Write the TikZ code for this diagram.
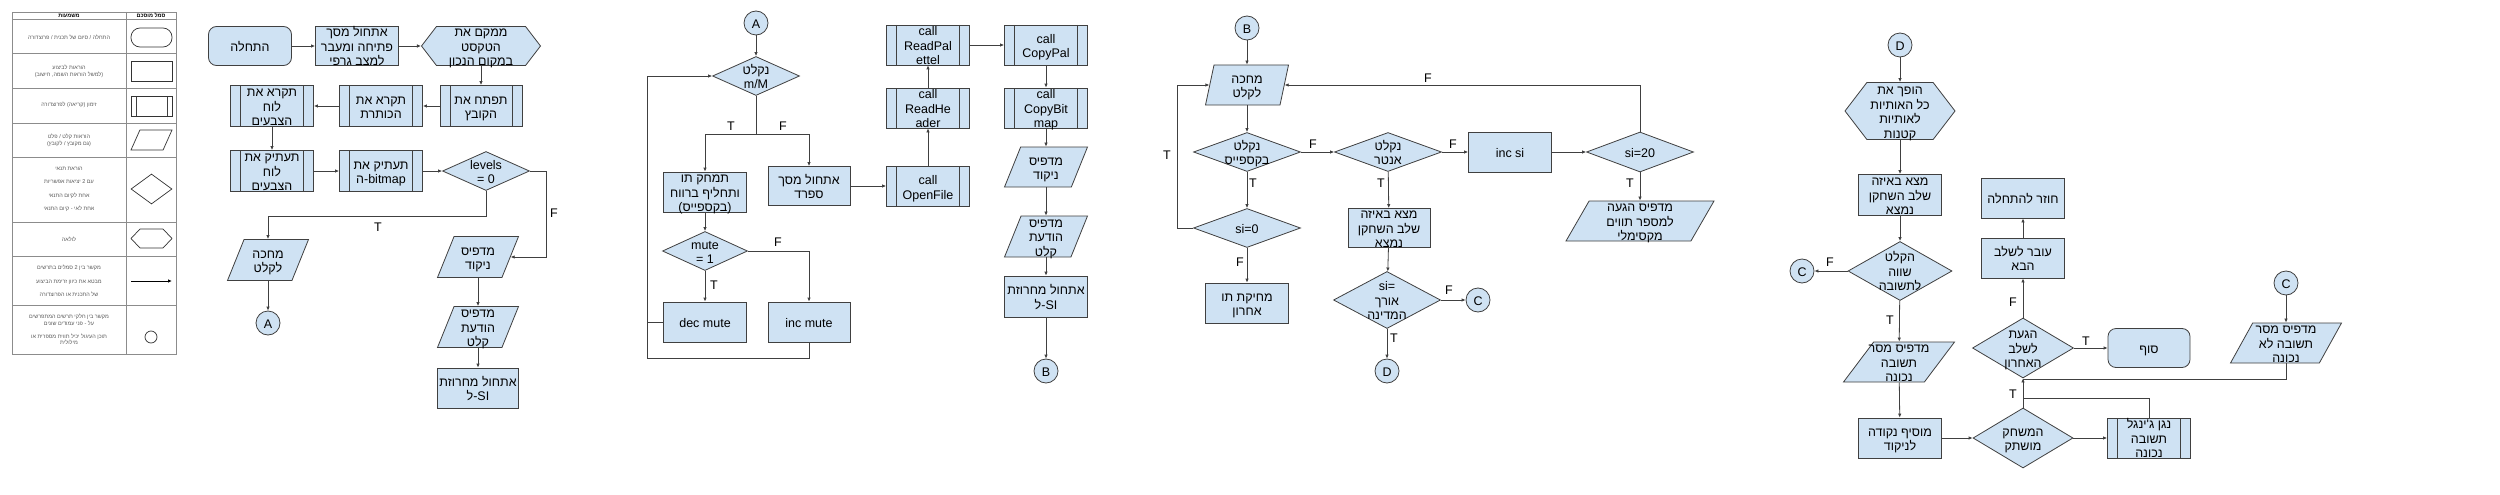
\documentclass[tikz,border=0pt]{standalone}
\usepackage{fontspec}
\setmainfont{Liberation Sans}
\newfontfamily\hebfont[Script=Hebrew]{Liberation Sans}
\usetikzlibrary{shapes.geometric,shapes.symbols,arrows.meta}
\TeXXeTstate=1
\definecolor{boxblue}{HTML}{CFE2F3}
\definecolor{edgegray}{HTML}{404040}
\newcommand{\heb}[1]{{\hebfont\beginR #1\endR}}
\newcommand{\nt}[1]{\smash{\raisebox{-5.5pt}{\makebox[0pt]{\begin{tabular}{@{}c@{}}#1\end{tabular}}}}}
\tikzset{
  box/.style={draw=edgegray, fill=boxblue, line width=0.8pt, inner sep=0pt, font=\fontsize{12.5}{14.5}\selectfont},
  term/.style={box, rectangle, rounded corners=8pt, minimum width=83pt, minimum height=39pt},
  proc/.style={box, rectangle, minimum width=83pt, minimum height=40pt},
  bars/.style={path picture={\draw[edgegray, line width=0.8pt]
      ([xshift=#1]path picture bounding box.north west) -- ([xshift=#1]path picture bounding box.south west)
      ([xshift=-#1]path picture bounding box.north east) -- ([xshift=-#1]path picture bounding box.south east);}},
  subr/.style={proc, bars=10pt},
  io/.style={box, trapezium, trapezium left angle=#1, trapezium right angle=\the\numexpr180-#1\relax,
      trapezium stretches body=true, inner xsep=0pt, inner ysep=20pt, minimum width=83pt},
  io/.default=68,
  cond/.style={box, diamond, minimum width=87pt, minimum height=39pt},
  hexa/.style={box, signal, signal to=east and west, signal pointer angle=105, minimum width=119pt, minimum height=39pt},
  conn/.style={box, circle, minimum size=24pt},
  arr/.style={draw=edgegray, line width=0.8pt, -{Latex[length=4pt,width=3.5pt]}},
  lnk/.style={draw=edgegray, line width=0.8pt},
  tf/.style={inner sep=0pt, font=\fontsize{12.5}{14.5}\selectfont},
  grid/.style={draw=black!45, line width=0.6pt},
  leg/.style={inner sep=0pt, align=center, text=black!65, font=\fontsize{5.5}{6.8}\selectfont},
  leghead/.style={leg, text=black, font=\fontsize{5.5}{6.8}\selectfont\bfseries},
  lsym/.style={draw=black!80, fill=white, line width=0.7pt, inner sep=0pt},
}
\begin{document}
\begin{tikzpicture}[x=1pt,y=-1pt]
\path[use as bounding box, fill=white] (0,0) rectangle (2500,495);

% legend table
\draw[grid] (12,12) rectangle (176,354);
\draw[grid] (126,12) -- (126,354);
\foreach \y in {19,53,88,123,157,222,256,305}
    \draw[grid] (12,\y) -- (176,\y);
\node[leghead] (h1) at (69,15.5) {\heb{משמעות}};
\node[leghead] (h2) at (151,15.5) {\heb{סמל מוסכם}};
\node[leg] (l1) at (69,37) {\heb{התחלה / סיום של תכנית / פרוצדורה}};
\node[leg] (l2) at (69,71) {\heb{הוראות לביצוע}\\\heb{(למשל הוראות השמה, חישוב)}};
\node[leg] (l3) at (69,105) {\heb{זימון (קריאה) לפרוצדורה}};
\node[leg] (l4) at (69,140.5) {\heb{הוראות קלט / פלט}\\\heb{(גם מקובץ / לקובץ)}};
\node[leg] (l5) at (69,189.5) {\heb{הוראת תנאי}\\[6.6pt]\heb{עם 2 יציאות אפשריות}\\[6.6pt]\heb{אחת לקיום התנאי}\\[6.6pt]\heb{אחת לאי - קיום התנאי}};
\node[leg] (l6) at (69,239) {\heb{לולאה}};
\node[leg] (l7) at (69,281) {\heb{מקשר בין 2 סמלים בתרשים}\\[7pt]\heb{מבטא את כיוון זרימת הביצוע}\\[7pt]\heb{של התכנית או הפרוצדורה}};
\node[leg] (l8) at (69,329.5) {\heb{מקשר בין חלקי תרשים המתפרשים}\\\heb{על - פני עמודים שונים}\\[6pt]\heb{תוכן העיגול יכיל תווית מספרית או}\\\heb{מילולית}};
\node[lsym, rounded corners=9pt, minimum width=41pt, minimum height=19pt] (s1) at (151.5,37.5) {};
\node[lsym, minimum width=41pt, minimum height=20pt] (s2) at (151.5,71) {};
\node[lsym, bars=5pt, minimum width=41pt, minimum height=20pt] (s3) at (151.5,106) {};
\node[lsym, trapezium, trapezium left angle=66, trapezium right angle=114, trapezium stretches body=true,
    inner ysep=10pt, minimum width=41pt] (s4) at (151.5,140) {};
\node[lsym, diamond, minimum width=41pt, minimum height=30pt] (s5) at (151.5,189) {};
\node[lsym, signal, signal to=east and west, signal pointer angle=93, minimum width=41pt, minimum height=19pt] (s6) at (151.5,238.5) {};
\coordinate (la) at (131,281);
\coordinate (lb) at (172,281);
\draw[arr, draw=black] (la) -- (lb);
\node[lsym, circle, minimum size=12pt] (s8) at (151,337) {};

% main program
\node[term] (start) at (250,46) {\nt{\heb{התחלה}}};
\node[proc, minimum height=39pt] (initscr) at (357,46) {\nt{\heb{אתחול מסך}\\\heb{פתיחה ומעבר}\\\heb{למצב גרפי}}};
\node[hexa] (place) at (481,46) {\nt{\heb{ממקם את}\\\heb{הטקסט}\\\heb{במקום הנכון}}};
\node[subr, minimum width=82pt, minimum height=41pt] (openf) at (481,106) {\nt{\heb{תפתח את}\\\heb{הקובץ}}};
\node[subr, minimum height=41pt] (readh) at (381,106) {\nt{\heb{תקרא את}\\\heb{הכותרת}}};
\node[subr, minimum height=41pt] (readp) at (272,106) {\nt{\heb{תקרא את}\\\heb{לוח}\\\heb{הצבעים}}};
\node[subr, minimum height=41pt] (copyp) at (272,171) {\nt{\heb{תעתיק את}\\\heb{לוח}\\\heb{הצבעים}}};
\node[subr, minimum height=41pt] (copyb) at (381,171) {\nt{\heb{תעתיק את}\\\heb{ה}-bitmap}};
\node[cond] (lvl) at (486,171) {\nt{levels\\= 0}};
\node[io, minimum width=81pt, inner ysep=20.5pt] (wait1) at (268,260) {\nt{\heb{מחכה}\\\heb{לקלט}}};
\node[conn] (conA1) at (268,323) {\nt{A}};
\node[io, minimum width=81pt, inner ysep=20.5pt] (score1) at (478,257) {\nt{\heb{מדפיס}\\\heb{ניקוד}}};
\node[io, minimum width=81pt, inner ysep=20.5pt] (prompt1) at (478,327) {\nt{\heb{מדפיס}\\\heb{הודעת}\\\heb{קלט}}};
\node[proc, minimum width=81pt] (initsi1) at (478,388) {\nt{\heb{אתחול מחרוזת}\\\heb{ל}-SI}};

\draw[arr] (start) -- (initscr);
\draw[arr] (initscr) -- (place);
\draw[arr] (place) -- (openf);
\draw[arr] (openf) -- (readh);
\draw[arr] (readh) -- (readp);
\draw[arr] (readp) -- (copyp);
\draw[arr] (copyp) -- (copyb);
\draw[arr] (copyb) -- (lvl);
\draw[arr] (lvl.south) -- ++(0,25) -| (wait1.north);
\draw[arr] (lvl.east) -- ++(16,0) |- (score1.east);
\draw[arr] (wait1) -- (conA1);
\draw[arr] (score1) -- (prompt1);
\draw[arr] (prompt1) -- (initsi1);
\node[tf] (t1) at (378,227) {T};
\node[tf] (f1) at (554,213) {F};

% A
\node[conn] (conA2) at (756,23) {\nt{A}};
\node[cond] (mm) at (756,76) {\nt{\heb{נקלט}\\m/M}};
\coordinate (mmfork) at (756,134);
\node[proc] (del) at (705,192) {\nt{\heb{תמחק תו}\\\heb{ותחליף ברווח}\\(\heb{בקספייס})}};
\node[proc, minimum width=82pt, minimum height=39pt] (spr) at (809,186) {\nt{\heb{אתחול מסך}\\\heb{ספרד}}};
\node[cond, minimum width=85pt] (mute) at (705,251) {\nt{mute\\= 1}};
\node[proc] (decm) at (705,322) {\nt{dec mute}};
\node[proc, minimum width=82pt] (incm) at (809,322) {\nt{inc mute}};
\coordinate (mloop) at (647,358);
\node[subr] (openfile) at (928,186.5) {\nt{call\\OpenFile}};
\node[subr] (readhd) at (928,108) {\nt{call\\ReadHe\\ader}};
\node[subr] (readpl) at (928,45) {\nt{call\\ReadPal\\ettel}};
\node[subr] (copypl) at (1046,45) {\nt{call\\CopyPal}};
\node[subr] (copybm) at (1046,108) {\nt{call\\CopyBit\\map}};
\node[io] (score2) at (1046,167) {\nt{\heb{מדפיס}\\\heb{ניקוד}}};
\node[io, inner ysep=20.5pt] (prompt2) at (1046,236.5) {\nt{\heb{מדפיס}\\\heb{הודעת}\\\heb{קלט}}};
\node[proc, minimum height=41pt] (initsi2) at (1046,296.5) {\nt{\heb{אתחול מחרוזת}\\\heb{ל}-SI}};
\node[conn] (conB1) at (1046,371) {\nt{B}};

\draw[arr] (conA2) -- (mm);
\draw[lnk] (mm.south) -- (mmfork);
\draw[arr] (mmfork) -| (del.north);
\draw[arr] (mmfork) -| (spr.north);
\draw[arr] (del) -- (mute);
\draw[arr] (mute) -- (decm);
\draw[arr] (mute.east) -| (incm.north);
\draw[arr] (incm.south) |- (mloop) |- (mm.west);
\draw[lnk] (decm.west) -- (decm.west -| mloop);
\draw[arr] (spr.east) -- (spr.east -| openfile.west);
\draw[arr] (openfile) -- (readhd);
\draw[arr] (readhd) -- (readpl);
\draw[arr] (readpl) -- (copypl);
\draw[arr] (copypl) -- (copybm);
\draw[arr] (copybm) -- (score2);
\draw[arr] (score2) -- (prompt2);
\draw[arr] (prompt2) -- (initsi2);
\draw[arr] (initsi2) -- (conB1);
\node[tf] (t2) at (731,126) {T};
\node[tf] (f2) at (783,126) {F};
\node[tf] (f3) at (778,242) {F};
\node[tf] (t3) at (714,285) {T};

% B
\node[conn] (conB2) at (1247,28) {\nt{B}};
\node[io=78] (wait2) at (1247,85) {\nt{\heb{מחכה}\\\heb{לקלט}}};
\node[cond, minimum width=107pt] (bksp) at (1247,152) {\nt{\heb{נקלט}\\\heb{בקספייס}}};
\node[cond, minimum width=107pt] (enter) at (1388,152) {\nt{\heb{נקלט}\\\heb{אנטר}}};
\node[proc] (incsi) at (1510,152) {\nt{inc si}};
\node[cond, minimum width=107pt, minimum height=40pt] (si20) at (1640,152) {\nt{si=20}};
\node[io=60, minimum width=148pt] (maxmsg) at (1640,221) {\nt{\heb{מדפיס הגעה}\\\heb{למספר תווים}\\\heb{מקסימלי}}};
\node[cond, minimum width=107pt] (si0) at (1247,228) {\nt{si=0}};
\node[proc] (dellast) at (1247,303) {\nt{\heb{מחיקת תו}\\\heb{אחרון}}};
\node[proc, minimum width=82pt, minimum height=39pt] (find1) at (1389,228) {\nt{\heb{מצא באיזה}\\\heb{שלב השחקן}\\\heb{נמצא}}};
\node[cond, minimum width=107pt, minimum height=57pt] (silen) at (1387,300) {\nt{si=\\\heb{אורך}\\\heb{המדינה}}};
\node[conn] (conC1) at (1478,300) {\nt{C}};
\node[conn] (conD1) at (1387,371) {\nt{D}};

\draw[arr] (conB2) -- (wait2);
\draw[arr] (wait2) -- (bksp);
\draw[arr] (bksp) -- (enter);
\draw[arr] (enter) -- (incsi);
\draw[arr] (incsi) -- (si20);
\draw[arr] (si20.north) |- (wait2.east);
\draw[arr] (si20) -- (maxmsg);
\draw[arr] (bksp) -- (si0);
\draw[arr] (si0.west) -- ++(-16,0) |- (wait2.west);
\draw[arr] (si0) -- (dellast);
\draw[arr] (enter) -- (find1);
\draw[arr] (find1) -- (silen);
\draw[arr] (silen) -- (conC1);
\draw[arr] (silen) -- (conD1);
\node[tf] (f4) at (1428,78) {F};
\node[tf] (f5) at (1313,144) {F};
\node[tf] (f6) at (1453,144) {F};
\node[tf] (t4) at (1253,183) {T};
\node[tf] (t5) at (1167,155) {T};
\node[tf] (f7) at (1240,262) {F};
\node[tf] (t6) at (1381,183) {T};
\node[tf] (f8) at (1449,290) {F};
\node[tf] (t7) at (1394,338) {T};
\node[tf] (t8) at (1630,183) {T};

% D
\node[conn] (conD2) at (1900,45) {\nt{D}};
\node[hexa, minimum width=110pt, minimum height=57pt] (lower) at (1900,111) {\nt{\heb{הופך את}\\\heb{כל האותיות}\\\heb{לאותיות}\\\heb{קטנות}}};
\node[proc, minimum height=41pt] (find2) at (1900,195) {\nt{\heb{מצא באיזה}\\\heb{שלב השחקן}\\\heb{נמצא}}};
\node[cond, minimum width=104pt, minimum height=59pt] (eq) at (1900,271) {\nt{\heb{הקלט}\\\heb{שווה}\\\heb{לתשובה}}};
\node[conn] (conC2) at (1802,271) {\nt{C}};
\node[io=53, minimum width=111pt] (right) at (1899,362) {\nt{\heb{מדפיס מסר}\\\heb{תשובה}\\\heb{נכונה}}};
\node[proc] (addpt) at (1900,438) {\nt{\heb{מוסיף נקודה}\\\heb{לניקוד}}};
\node[cond, minimum width=100pt, minimum height=60pt] (quiet) at (2023,438) {\nt{\heb{המשחק}\\\heb{מושתק}}};
\node[subr] (jingle) at (2149,438) {\nt{\heb{נגן ג'ינגל}\\\heb{תשובה}\\\heb{נכונה}}};
\node[cond, minimum width=101pt, minimum height=60pt] (last) at (2023,348) {\nt{\heb{הגעת}\\\heb{לשלב}\\\heb{האחרון}}};
\node[proc] (next) at (2023,258) {\nt{\heb{עובר לשלב}\\\heb{הבא}}};
\node[proc] (restart) at (2023,198) {\nt{\heb{חוזר להתחלה}}};
\node[term, minimum width=82pt] (endn) at (2149,348) {\nt{\heb{סוף}}};
\node[conn] (conC3) at (2286,283) {\nt{C}};
\node[io=61, minimum width=111pt] (wrong) at (2286,343) {\nt{\heb{מדפיס מסר}\\\heb{תשובה לא}\\\heb{נכונה}}};
\coordinate (jin) at (2023,398);
\coordinate (win) at (2023,379);

\draw[arr] (conD2) -- (lower);
\draw[arr] (lower) -- (find2);
\draw[arr] (find2) -- (eq);
\draw[arr] (eq) -- (conC2);
\draw[arr] (eq) -- (right);
\draw[arr] (right) -- (addpt);
\draw[arr] (addpt) -- (quiet);
\draw[arr] (quiet) -- (jingle);
\draw[arr] (quiet) -- (last);
\draw[lnk] (jingle.north) |- (jin);
\draw[lnk] (wrong.south) |- (win);
\draw[arr] (last) -- (next);
\draw[arr] (next) -- (restart);
\draw[arr] (last) -- (endn);
\draw[arr] (conC3) -- (wrong);
\node[tf] (f9) at (1830,262) {F};
\node[tf] (t9) at (1890,320) {T};
\node[tf] (f10) at (2013,302) {F};
\node[tf] (t10) at (2086,341) {T};
\node[tf] (t11) at (2013,394) {T};
\end{tikzpicture}
\end{document}
